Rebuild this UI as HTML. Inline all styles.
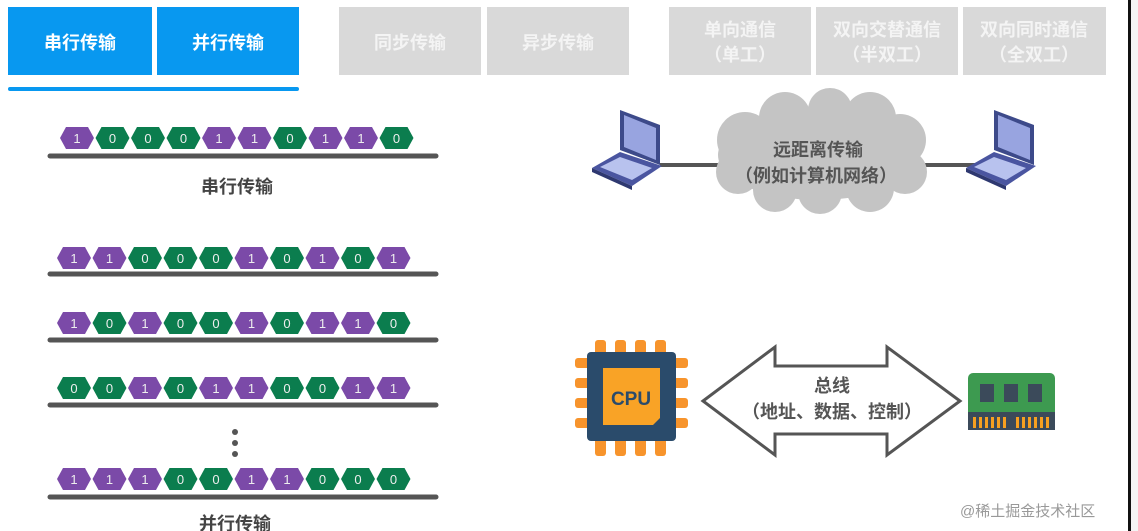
<!DOCTYPE html>
<html><head><meta charset="utf-8">
<style>
html,body{margin:0;padding:0;background:#fff;}
body{width:1138px;height:531px;overflow:hidden;position:relative;font-family:"Liberation Sans","Noto Sans CJK SC",sans-serif;}
svg{position:absolute;left:0;top:0;}
.t{font-family:"Liberation Sans","Noto Sans CJK SC",sans-serif;}
</style></head><body>
<svg width="1138" height="531" viewBox="0 0 1138 531" xmlns="http://www.w3.org/2000/svg">
<defs>
<polygon id="h" points="0,11 6,0 28,0 34,11 28,22 6,22"/>
</defs>
<rect x="1128" y="0" width="3" height="531" fill="#111"/>
<rect x="1131" y="0" width="7" height="531" fill="#f4f4f4"/>
<!-- tabs -->
<g class="t" font-size="18" font-weight="bold" fill="#fff" text-anchor="middle">
<rect x="8" y="7" width="144" height="68" fill="#0898f0"/>
<rect x="157" y="7" width="142" height="68" fill="#0898f0"/>
<rect x="8" y="87" width="291" height="4" rx="2" fill="#0898f0"/>
<text x="80" y="49">串行传输</text>
<text x="228" y="49">并行传输</text>
<rect x="339" y="7" width="142" height="68" fill="#d9d9d9"/>
<rect x="487" y="7" width="142" height="68" fill="#d9d9d9"/>
<text x="410" y="49" fill="#f4f4f4">同步传输</text>
<text x="558" y="49" fill="#f4f4f4">异步传输</text>
<rect x="669" y="7" width="142" height="68" fill="#d9d9d9"/>
<rect x="816" y="7" width="142" height="68" fill="#d9d9d9"/>
<rect x="963" y="7" width="143" height="68" fill="#d9d9d9"/>
<g fill="#f4f4f4">
<text x="740" y="36">单向通信</text><text x="740" y="61">（单工）</text>
<text x="887" y="36">双向交替通信</text><text x="887" y="61">（半双工）</text>
<text x="1034" y="36">双向同时通信</text><text x="1034" y="61">（全双工）</text>
</g>
</g>

<!-- lines -->
<g stroke="#555" stroke-width="5" stroke-linecap="round">
<line x1="50" y1="156" x2="436" y2="156"/>
<line x1="50" y1="274" x2="436" y2="274"/>
<line x1="50" y1="340" x2="436" y2="340"/>
<line x1="50" y1="405" x2="436" y2="405"/>
<line x1="50" y1="497" x2="436" y2="497"/>
</g>
<g fill="#555"><circle cx="235" cy="432" r="3"/><circle cx="235" cy="443" r="3"/><circle cx="235" cy="454" r="3"/></g>

<g class="t" font-size="13" fill="#eee" text-anchor="middle">
<g transform="translate(60,127)">
<use href="#h" x="0" fill="#7b4aa8"/><text x="17" y="16">1</text>
<use href="#h" x="35.5" fill="#0b7d4e"/><text x="52.5" y="16">0</text>
<use href="#h" x="71" fill="#0b7d4e"/><text x="88" y="16">0</text>
<use href="#h" x="106.5" fill="#0b7d4e"/><text x="123.5" y="16">0</text>
<use href="#h" x="142" fill="#7b4aa8"/><text x="159" y="16">1</text>
<use href="#h" x="177.5" fill="#7b4aa8"/><text x="194.5" y="16">1</text>
<use href="#h" x="213" fill="#0b7d4e"/><text x="230" y="16">0</text>
<use href="#h" x="248.5" fill="#7b4aa8"/><text x="265.5" y="16">1</text>
<use href="#h" x="284" fill="#7b4aa8"/><text x="301" y="16">1</text>
<use href="#h" x="319.5" fill="#0b7d4e"/><text x="336.5" y="16">0</text>
</g>
<g transform="translate(57,247)">
<use href="#h" x="0" fill="#7b4aa8"/><text x="17" y="16">1</text>
<use href="#h" x="35.5" fill="#7b4aa8"/><text x="52.5" y="16">1</text>
<use href="#h" x="71" fill="#0b7d4e"/><text x="88" y="16">0</text>
<use href="#h" x="106.5" fill="#0b7d4e"/><text x="123.5" y="16">0</text>
<use href="#h" x="142" fill="#0b7d4e"/><text x="159" y="16">0</text>
<use href="#h" x="177.5" fill="#7b4aa8"/><text x="194.5" y="16">1</text>
<use href="#h" x="213" fill="#0b7d4e"/><text x="230" y="16">0</text>
<use href="#h" x="248.5" fill="#7b4aa8"/><text x="265.5" y="16">1</text>
<use href="#h" x="284" fill="#0b7d4e"/><text x="301" y="16">0</text>
<use href="#h" x="319.5" fill="#7b4aa8"/><text x="336.5" y="16">1</text>
</g>
<g transform="translate(57,312)">
<use href="#h" x="0" fill="#7b4aa8"/><text x="17" y="16">1</text>
<use href="#h" x="35.5" fill="#0b7d4e"/><text x="52.5" y="16">0</text>
<use href="#h" x="71" fill="#7b4aa8"/><text x="88" y="16">1</text>
<use href="#h" x="106.5" fill="#0b7d4e"/><text x="123.5" y="16">0</text>
<use href="#h" x="142" fill="#0b7d4e"/><text x="159" y="16">0</text>
<use href="#h" x="177.5" fill="#7b4aa8"/><text x="194.5" y="16">1</text>
<use href="#h" x="213" fill="#0b7d4e"/><text x="230" y="16">0</text>
<use href="#h" x="248.5" fill="#7b4aa8"/><text x="265.5" y="16">1</text>
<use href="#h" x="284" fill="#7b4aa8"/><text x="301" y="16">1</text>
<use href="#h" x="319.5" fill="#0b7d4e"/><text x="336.5" y="16">0</text>
</g>
<g transform="translate(57,377)">
<use href="#h" x="0" fill="#0b7d4e"/><text x="17" y="16">0</text>
<use href="#h" x="35.5" fill="#0b7d4e"/><text x="52.5" y="16">0</text>
<use href="#h" x="71" fill="#7b4aa8"/><text x="88" y="16">1</text>
<use href="#h" x="106.5" fill="#0b7d4e"/><text x="123.5" y="16">0</text>
<use href="#h" x="142" fill="#7b4aa8"/><text x="159" y="16">1</text>
<use href="#h" x="177.5" fill="#7b4aa8"/><text x="194.5" y="16">1</text>
<use href="#h" x="213" fill="#0b7d4e"/><text x="230" y="16">0</text>
<use href="#h" x="248.5" fill="#0b7d4e"/><text x="265.5" y="16">0</text>
<use href="#h" x="284" fill="#7b4aa8"/><text x="301" y="16">1</text>
<use href="#h" x="319.5" fill="#7b4aa8"/><text x="336.5" y="16">1</text>
</g>
<g transform="translate(57,468)">
<use href="#h" x="0" fill="#7b4aa8"/><text x="17" y="16">1</text>
<use href="#h" x="35.5" fill="#7b4aa8"/><text x="52.5" y="16">1</text>
<use href="#h" x="71" fill="#7b4aa8"/><text x="88" y="16">1</text>
<use href="#h" x="106.5" fill="#0b7d4e"/><text x="123.5" y="16">0</text>
<use href="#h" x="142" fill="#0b7d4e"/><text x="159" y="16">0</text>
<use href="#h" x="177.5" fill="#7b4aa8"/><text x="194.5" y="16">1</text>
<use href="#h" x="213" fill="#7b4aa8"/><text x="230" y="16">1</text>
<use href="#h" x="248.5" fill="#0b7d4e"/><text x="265.5" y="16">0</text>
<use href="#h" x="284" fill="#0b7d4e"/><text x="301" y="16">0</text>
<use href="#h" x="319.5" fill="#0b7d4e"/><text x="336.5" y="16">0</text>
</g>
</g>
<g class="t" font-size="18" font-weight="bold" fill="#444" text-anchor="middle">
<text x="237" y="193">串行传输</text>
<text x="235" y="530">并行传输</text>
</g>

<!-- network -->
<g stroke="#555" stroke-width="4"><line x1="660" y1="165" x2="720" y2="165"/><line x1="920" y1="165" x2="975" y2="165"/></g>
<g fill="#c4c4c4">
<ellipse cx="818" cy="155" rx="100" ry="45"/>
<circle cx="745" cy="140" r="28"/><circle cx="785" cy="118" r="26"/><circle cx="830" cy="110" r="22"/><circle cx="870" cy="118" r="26"/>
<circle cx="900" cy="140" r="26"/><circle cx="905" cy="172" r="22"/><circle cx="870" cy="188" r="24"/>
<circle cx="820" cy="192" r="22"/><circle cx="775" cy="190" r="22"/><circle cx="738" cy="172" r="22"/>
</g>
<g class="t" font-size="18" font-weight="bold" fill="#555" text-anchor="middle">
<text x="818" y="156">远距离传输</text>
<text x="816" y="182">（例如计算机网络）</text>
</g>
<g id="lp">
<polygon points="620,110 660,125 660,165 620,150" fill="#3d4a8a"/>
<polygon points="624,115 656,128 656,160 624,147" fill="#98a4e0"/>
<polygon points="592,168 620,152 662,166 632,186" fill="#4a55a0"/>
<polygon points="600,167 620,157 652,168 632,180" fill="#b8c2ee"/>
<polygon points="592,168 632,186 632,190 592,172" fill="#2e3870"/>
</g>
<use href="#lp" x="374" y="0"/>

<!-- CPU -->
<g fill="#f7942c">
<rect x="595" y="340" width="11" height="116" rx="3"/><rect x="615" y="340" width="11" height="116" rx="3"/>
<rect x="635" y="340" width="11" height="116" rx="3"/><rect x="655" y="340" width="11" height="116" rx="3"/>
<rect x="575" y="358" width="113" height="10" rx="3"/><rect x="575" y="378" width="113" height="10" rx="3"/>
<rect x="575" y="398" width="113" height="10" rx="3"/><rect x="575" y="418" width="113" height="10" rx="3"/>
</g>
<rect x="587" y="352" width="89" height="89" rx="4" fill="#2a4b6b"/>
<polygon points="603,368 660,368 660,418 653,425 603,425" fill="#f9a326"/>
<text x="631" y="405" class="t" font-size="19" font-weight="bold" fill="#2a4b6b" text-anchor="middle">CPU</text>

<polygon points="703,401 775,347 775,366 887,366 887,347 960,401 887,455 887,434 775,434 775,455" fill="#fff" stroke="#555" stroke-width="3"/>
<g class="t" font-size="18" font-weight="bold" fill="#555" text-anchor="middle">
<text x="832" y="392">总线</text>
<text x="832" y="418">（地址、数据、控制）</text>
</g>

<rect x="968" y="373" width="87" height="57" rx="5" fill="#3d9a50"/>
<rect x="968" y="412" width="87" height="18" fill="#3b4a5a"/>
<g fill="#3b4a5a"><rect x="980" y="384" width="14" height="18"/><rect x="1004" y="384" width="14" height="18"/><rect x="1028" y="384" width="14" height="18"/></g>
<g fill="#f7a020">
<rect x="973" y="417" width="3" height="11"/><rect x="979" y="417" width="3" height="11"/><rect x="985" y="417" width="3" height="11"/><rect x="991" y="417" width="3" height="11"/><rect x="997" y="417" width="3" height="11"/><rect x="1003" y="417" width="3" height="11"/>
<rect x="1016" y="417" width="3" height="11"/><rect x="1022" y="417" width="3" height="11"/><rect x="1028" y="417" width="3" height="11"/><rect x="1034" y="417" width="3" height="11"/><rect x="1040" y="417" width="3" height="11"/><rect x="1046" y="417" width="3" height="11"/>
</g>

<text x="960" y="516" class="t" font-size="15" fill="#999">@稀土掘金技术社区</text>
</svg>
</body></html>
